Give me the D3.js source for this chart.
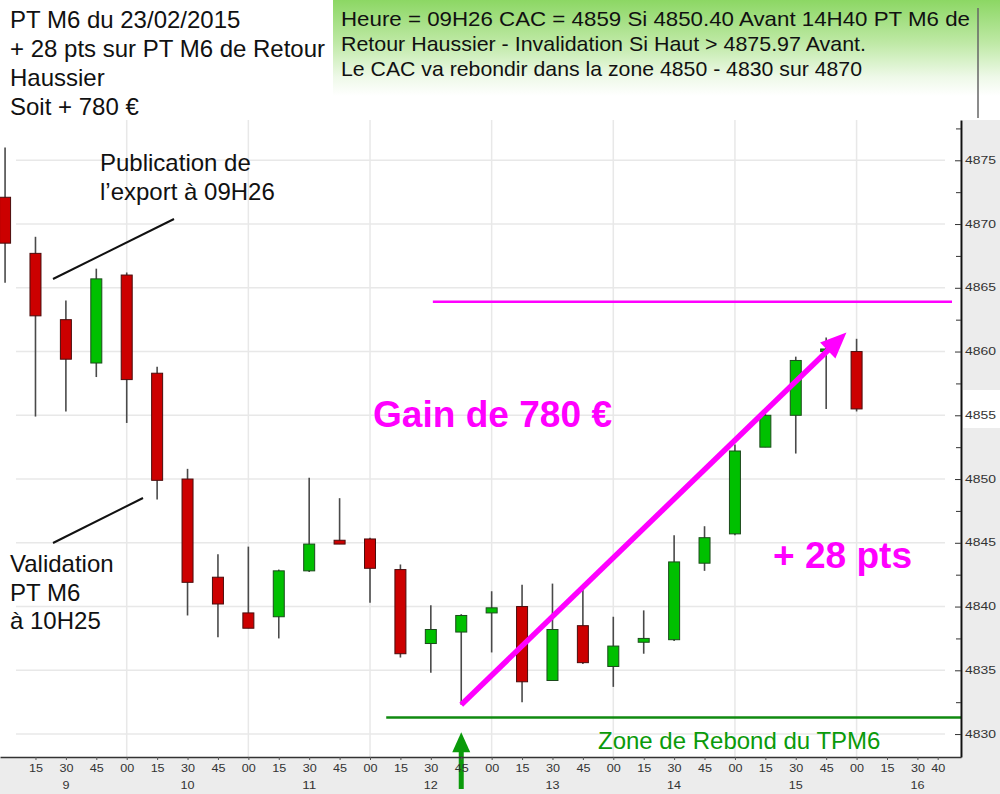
<!DOCTYPE html>
<html><head><meta charset="utf-8">
<script src="https://cdn.jsdelivr.net/npm/d3@7"></script>
<style>
html,body{margin:0;padding:0;background:#fff;}
svg{display:block;font-family:"Liberation Sans",Arial,sans-serif;}
</style></head>
<body>
<svg id="chart" width="1000" height="794"></svg>
<script>
// ---------- DATA ----------
const times  = ["09:00","09:15","09:30","09:45","10:00","10:15","10:30","10:45","11:00","11:15","11:30","11:45","12:00","12:15","12:30","12:45","13:00","13:15","13:30","13:45","14:00","14:15","14:30","14:45","15:00","15:15","15:30","15:45","16:00"];
const opens  = [4872.1,4867.7,4862.5,4859.1,4866.0,4858.3,4850.0,4842.3,4839.5,4839.2,4842.8,4845.2,4845.3,4842.9,4837.1,4838.0,4839.5,4840.0,4834.2,4838.5,4835.3,4837.2,4837.4,4843.4,4845.7,4852.5,4855.0,4860.0,4860.0];
const highs  = [4876.0,4869.0,4864.0,4866.5,4866.2,4858.8,4850.8,4844.1,4844.7,4842.9,4850.1,4848.5,4845.4,4843.3,4840.1,4839.4,4841.2,4841.7,4841.8,4841.3,4839.2,4839.7,4845.6,4846.3,4852.7,4855.1,4859.6,4861.1,4861.0];
const lows   = [4865.4,4854.9,4855.3,4858.0,4854.4,4848.4,4839.3,4837.6,4838.3,4837.5,4842.7,4844.9,4840.3,4836.0,4834.8,4832.3,4836.4,4832.5,4834.2,4835.5,4833.7,4836.3,4837.3,4842.8,4845.6,4852.5,4852.0,4855.5,4855.3];
const closes = [4868.5,4862.8,4859.4,4865.7,4857.8,4849.9,4841.9,4840.2,4838.3,4842.8,4844.9,4844.9,4843.0,4836.3,4838.2,4839.3,4839.9,4834.1,4838.2,4835.6,4836.9,4837.5,4843.5,4845.4,4852.2,4855.0,4859.3,4860.2,4855.5];

const priceTicks = [4830,4835,4840,4845,4850,4855,4860,4865,4870,4875];
const minorPriceTicks = [4832.5,4837.5,4842.5,4847.5,4852.5,4857.5,4862.5,4867.5,4872.5,4877.5];
const timeTicks = ["09:15","09:30","09:45","10:00","10:15","10:30","10:45","11:00","11:15","11:30","11:45","12:00","12:15","12:30","12:45","13:00","13:15","13:30","13:45","14:00","14:15","14:30","14:45","15:00","15:15","15:30","15:45","16:00","16:15","16:30","16:40"];
const hourTicks  = ["09:30","10:30","11:30","12:30","13:30","14:30","15:30","16:30"];
const hourLabels = ["9","10","11","12","13","14","15","16"];
const gridHours  = ["10:00","11:00","12:00","13:00","14:00","15:00","16:00"];

// annotation values
const resistanceLevel = 4863.9, resistanceFrom = "12:31";
const reboundLevel = 4831.3, reboundFrom = "12:08";
const arrowStart = {t:"12:45", v:4832.3}, arrowEnd = {t:"15:55", v:4861.5};
const signalTime = "12:45", signalTipValue = 4830.15;

const titleLines = ["PT M6 du 23/02/2015","+ 28 pts sur PT M6 de Retour","Haussier","Soit + 780 €"];
const infoLines  = ["Heure = 09H26 CAC = 4859 Si 4850.40 Avant 14H40 PT M6 de","Retour Haussier - Invalidation Si Haut > 4875.97 Avant.","Le CAC va rebondir dans la zone 4850 - 4830 sur 4870"];
const infoWidths = [629,525,521];
const pubLines = ["Publication de","l\u2019export à 09H26"];
const valLines = ["Validation","PT M6","à 10H25"];

// ---------- SCALES ----------
const parse = d3.timeParse("%H:%M");
const t0 = parse(times[0]), tEnd = parse(times[times.length-1]);
const x = d3.scaleTime()
  .domain([d3.timeSecond.offset(t0,-150), d3.timeSecond.offset(tEnd,3090)])
  .range([0,961]);
const y = d3.scaleLinear().domain([4828.2,4878.16]).range([757,120]);

const svg = d3.select("#chart");
const defs = svg.append("defs");
const grad = defs.append("linearGradient").attr("id","gbox").attr("x1",0).attr("y1",0).attr("x2",0).attr("y2",1);
grad.append("stop").attr("offset","0%").attr("stop-color","#8cd764");
grad.append("stop").attr("offset","45%").attr("stop-color","#bfe9a6");
grad.append("stop").attr("offset","80%").attr("stop-color","#eef9e8");
grad.append("stop").attr("offset","100%").attr("stop-color","#ffffff");

// backgrounds
svg.append("rect").attr("x",333).attr("y",0).attr("width",667).attr("height",96).attr("fill","url(#gbox)");
svg.append("line").attr("x1",978).attr("x2",978).attr("y1",8).attr("y2",118).attr("stroke","#666").attr("stroke-width",1.5);
svg.append("rect").attr("x",963).attr("y",120).attr("width",37).attr("height",270).attr("fill","#ececec");
svg.append("rect").attr("x",963).attr("y",428).attr("width",37).attr("height",366).attr("fill","#ececec");
svg.append("rect").attr("x",0).attr("y",758).attr("width",1000).attr("height",36).attr("fill","#ececec");

// grid
const grid = svg.append("g");
grid.selectAll(".hg").data(priceTicks).join("line")
  .attr("x1",16).attr("x2",945).attr("y1",d=>y(d)).attr("y2",d=>y(d))
  .attr("stroke","#e8e8e8").attr("stroke-width",1.5);
grid.selectAll(".vg").data(gridHours).join("line")
  .attr("x1",d=>x(parse(d))).attr("x2",d=>x(parse(d))).attr("y1",120).attr("y2",757)
  .attr("stroke","#e8e8e8").attr("stroke-width",1.5);

// candles
const candles = times.map((t,i)=>({t:parse(t),o:opens[i],h:highs[i],l:lows[i],c:closes[i]}));
const cg = svg.append("g");
cg.selectAll(".wick").data(candles).join("line")
  .attr("x1",d=>x(d.t)).attr("x2",d=>x(d.t))
  .attr("y1",d=>y(d.h)).attr("y2",d=>y(d.l))
  .attr("stroke","#4a4a4a").attr("stroke-width",1.6);
const bw = 11;
cg.selectAll(".body").data(candles).join("rect")
  .attr("x",d=>x(d.t)-bw/2)
  .attr("y",d=>y(Math.max(d.o,d.c)))
  .attr("width",bw)
  .attr("height",d=>Math.max(2.5,Math.abs(y(d.o)-y(d.c))))
  .attr("fill",d=>d.c>=d.o?"#00c000":"#cc0000")
  .attr("stroke",d=>d.c>=d.o?"#1c4a1c":"#4a0d0d").attr("stroke-width",1);

// resistance & rebound lines
svg.append("line").attr("x1",x(parse(resistanceFrom))).attr("x2",952)
  .attr("y1",y(resistanceLevel)).attr("y2",y(resistanceLevel))
  .attr("stroke","#ff00ff").attr("stroke-width",2.5);
svg.append("line").attr("x1",x(parse(reboundFrom))).attr("x2",961)
  .attr("y1",y(reboundLevel)).attr("y2",y(reboundLevel))
  .attr("stroke","#108a10").attr("stroke-width",2.5);

// magenta arrow
{
  const x1=x(parse(arrowStart.t)), y1=y(arrowStart.v), x2=x(parse(arrowEnd.t)), y2=y(arrowEnd.v);
  const ang=Math.atan2(y2-y1,x2-x1), L=26, W=11;
  const bx=x2-L*Math.cos(ang), by=y2-L*Math.sin(ang);
  svg.append("line").attr("x1",x1).attr("y1",y1).attr("x2",bx+4*Math.cos(ang)).attr("y2",by+4*Math.sin(ang))
    .attr("stroke","#ff00ff").attr("stroke-width",5.5);
  const px=-Math.sin(ang), py=Math.cos(ang);
  svg.append("polygon").attr("points",[[x2,y2],[bx+W*px,by+W*py],[bx-W*px,by-W*py]].map(p=>p.join(",")).join(" "))
    .attr("fill","#ff00ff");
}

// green signal arrow
{
  const gx=x(parse(signalTime)), tip=y(signalTipValue);
  svg.append("rect").attr("x",gx-2.5).attr("y",tip+18).attr("width",5).attr("height",789-(tip+18)).attr("fill","#0a9a0a");
  svg.append("polygon").attr("points",`${gx},${tip} ${gx-9},${tip+20} ${gx+9},${tip+20}`).attr("fill","#0a9a0a");
}

// axes
const yAxis = d3.axisRight(y).tickValues(priceTicks).tickSizeInner(-6).tickSizeOuter(0).tickPadding(4).tickFormat(d3.format("d"));
const ya = svg.append("g").attr("transform","translate(961,0)").call(yAxis);
ya.select(".domain").attr("stroke","#111").attr("stroke-width",2);
ya.selectAll(".tick line").attr("stroke","#333");
ya.selectAll(".tick text").attr("font-size",10).attr("fill","#333")
  .attr("textLength",31).attr("lengthAdjust","spacingAndGlyphs");
const yMinor = d3.axisRight(y).tickValues(minorPriceTicks.filter(v=>v<4878)).tickSizeInner(-5).tickSizeOuter(0).tickFormat("");
const ym = svg.append("g").attr("transform","translate(961,0)").call(yMinor);
ym.select(".domain").remove();
ym.selectAll(".tick line").attr("stroke","#333");

const xAxis = d3.axisBottom(x).tickValues(timeTicks.map(parse)).tickSizeInner(3).tickSizeOuter(0).tickPadding(5)
  .tickFormat(d3.timeFormat("%M"));
const xa = svg.append("g").attr("transform","translate(0,757)").call(xAxis);
xa.select(".domain").attr("stroke","#333").attr("stroke-width",1.5);
xa.selectAll(".tick line").attr("stroke","#555");
xa.selectAll(".tick text").attr("font-size",10).attr("fill","#333")
  .attr("textLength",14).attr("lengthAdjust","spacingAndGlyphs");
svg.append("g").selectAll("text").data(hourTicks).join("text")
  .attr("x",d=>x(parse(d))).attr("y",789).attr("text-anchor","middle")
  .attr("font-size",10).attr("fill","#333")
  .attr("textLength",(d,i)=>hourLabels[i].length*7).attr("lengthAdjust","spacingAndGlyphs")
  .text((d,i)=>hourLabels[i]);

// texts
svg.append("g").selectAll("text").data(titleLines).join("text")
  .attr("x",10).attr("y",(d,i)=>28+i*29).attr("font-size",24).attr("fill","#111").text(d=>d);
svg.append("g").selectAll("text").data(infoLines).join("text")
  .attr("x",341).attr("y",(d,i)=>26+i*25).attr("font-size",21).attr("fill","#111")
  .attr("textLength",(d,i)=>infoWidths[i]).attr("lengthAdjust","spacingAndGlyphs").text(d=>d);
svg.append("g").selectAll("text").data(pubLines).join("text")
  .attr("x",100).attr("y",(d,i)=>171+i*29).attr("font-size",24).attr("fill","#111").text(d=>d);
svg.append("g").selectAll("text").data(valLines).join("text")
  .attr("x",10).attr("y",(d,i)=>572+i*28.5).attr("font-size",24).attr("fill","#111").text(d=>d);
svg.append("line").attr("x1",53).attr("y1",279).attr("x2",174).attr("y2",219).attr("stroke","#111").attr("stroke-width",2);
svg.append("line").attr("x1",53).attr("y1",543).attr("x2",143).attr("y2",498).attr("stroke","#111").attr("stroke-width",2);

svg.append("text").attr("x",373).attr("y",427).attr("font-size",36).attr("font-weight","bold").attr("fill","#ff00ff")
  .attr("textLength",239).attr("lengthAdjust","spacingAndGlyphs").text("Gain de 780 €");
svg.append("text").attr("x",773).attr("y",568).attr("font-size",37).attr("font-weight","bold").attr("fill","#ff00ff")
  .attr("textLength",139).attr("lengthAdjust","spacingAndGlyphs").text("+ 28 pts");
svg.append("text").attr("x",598).attr("y",749).attr("font-size",24).attr("fill","#0a9a0a").text("Zone de Rebond du TPM6");
</script>
</body></html>
